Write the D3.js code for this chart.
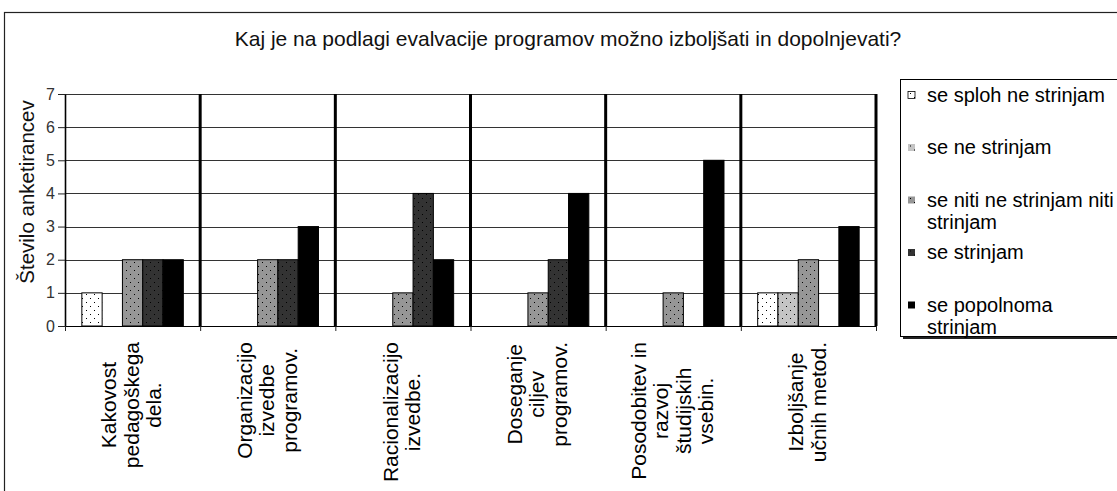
<!DOCTYPE html>
<html>
<head>
<meta charset="utf-8">
<script src="https://cdn.jsdelivr.net/npm/d3@7"></script>
<style>
  body { margin: 0; background: #fff; }
  svg { display: block; font-family: "Liberation Sans", Arial, sans-serif; }
</style>
</head>
<body>
<div id="chart"></div>
<script>
// data
var chartTitle = 'Kaj je na podlagi evalvacije programov možno izboljšati in dopolnjevati?';
var yTitle = 'Število anketirancev';
var categories = [
  ['Kakovost', 'pedagoškega', 'dela.'],
  ['Organizacijo', 'izvedbe', 'programov.'],
  ['Racionalizacijo', 'izvedbe.'],
  ['Doseganje', 'ciljev', 'programov.'],
  ['Posodobitev in', 'razvoj', 'študijskih', 'vsebin.'],
  ['Izboljšanje', 'učnih metod.']
];
var seriesNames = [
  ['se sploh ne strinjam'],
  ['se ne strinjam'],
  ['se niti ne strinjam niti', 'strinjam'],
  ['se strinjam'],
  ['se popolnoma', 'strinjam']
];
var sploh = [1, 0, 0, 0, 0, 1];
var neStrinjam = [0, 0, 0, 0, 0, 1];
var nitiNiti = [2, 2, 1, 1, 1, 2];
var strinjam = [2, 2, 4, 2, 0, 0];
var popolnoma = [2, 3, 2, 4, 5, 3];
var yTicks = [0, 1, 2, 3, 4, 5, 6, 7];

var seriesValues = [sploh, neStrinjam, nitiNiti, strinjam, popolnoma];
var seriesColors = ['#ffffff', '#c4c4c4', '#969696', '#333333', '#000000'];

var width = 1117, height = 491;
var plot = {left: 65, right: 876, top: 94, bottom: 326};

var svg = d3.select('#chart').append('svg')
            .attr('width', width)
            .attr('height', height);

// dotted fills
var defs = svg.append('defs');
seriesColors.forEach(function(c, i) {
  var p = defs.append('pattern')
              .attr('id', 'pat' + i)
              .attr('patternUnits', 'userSpaceOnUse')
              .attr('width', 8).attr('height', 8);
  p.append('rect').attr('width', 8).attr('height', 8).attr('fill', c);
  if (i < 4) {
    p.append('rect').attr('x', 2).attr('y', 2).attr('width', 1).attr('height', 1).attr('fill', '#000');
    p.append('rect').attr('x', 6).attr('y', 6).attr('width', 1).attr('height', 1).attr('fill', '#000');
  }
});

// outer chart border
svg.append('rect')
   .attr('x', 4.5).attr('y', 12.5)
   .attr('width', 1200).attr('height', 600)
   .attr('fill', 'none').attr('stroke', '#222').attr('stroke-width', 1.2);

svg.append('text')
   .attr('x', 568).attr('y', 46)
   .attr('text-anchor', 'middle')
   .style('font-size', '21px')
   .attr('fill', '#111')
   .text(chartTitle);

var x0 = d3.scaleBand()
           .domain(d3.range(categories.length))
           .range([plot.left, plot.right]);
var x1 = d3.scaleBand()
           .domain(d3.range(seriesValues.length))
           .range([0, x0.bandwidth()])
           .paddingOuter(0.83);
var xEdge = d3.scaleLinear()
              .domain([0, categories.length])
              .range([plot.left, plot.right]);
var y = d3.scaleLinear()
          .domain([0, 7])
          .range([plot.bottom, plot.top]);

// gridlines
svg.append('g').selectAll('line')
   .data(yTicks.filter(function(t) { return t > 0; }))
   .enter().append('line')
   .attr('x1', plot.left).attr('x2', plot.right)
   .attr('y1', function(d) { return Math.round(y(d)) + 0.5; })
   .attr('y2', function(d) { return Math.round(y(d)) + 0.5; })
   .attr('stroke', '#333').attr('stroke-width', 1);

// bars
var seriesG = svg.append('g').selectAll('g')
   .data(seriesValues)
   .enter().append('g')
   .attr('fill', function(d, i) { return 'url(#pat' + i + ')'; });

seriesG.selectAll('rect')
   .data(function(d, i) {
     return d.map(function(v, c) { return {s: i, c: c, v: v}; })
             .filter(function(e) { return e.v > 0; });
   })
   .enter().append('rect')
   .attr('x', function(d) { return x0(d.c) + x1(d.s); })
   .attr('width', x1.bandwidth())
   .attr('y', function(d) { return y(d.v); })
   .attr('height', function(d) { return y(0) - y(d.v); })
   .attr('stroke', '#000').attr('stroke-width', 1);

// thick group separators
svg.append('g').selectAll('line')
   .data(d3.range(1, categories.length + 1))
   .enter().append('line')
   .attr('x1', function(d) { return xEdge(d); })
   .attr('x2', function(d) { return xEdge(d); })
   .attr('y1', plot.top).attr('y2', plot.bottom)
   .attr('stroke', '#000').attr('stroke-width', 3);

// axes
var yAxis = d3.axisLeft(y).tickValues(yTicks).tickFormat(d3.format('d'))
              .tickSize(7).tickSizeOuter(0).tickPadding(3);
var yG = svg.append('g')
   .attr('transform', 'translate(' + plot.left + ',0)')
   .call(yAxis);
yG.select('.domain').attr('stroke', '#000').attr('stroke-width', 1.6);
yG.selectAll('.tick line').attr('stroke', '#222');
yG.selectAll('.tick text')
  .style('font-size', '16px')
  .style('font-family', '"Liberation Sans", Arial, sans-serif')
  .attr('fill', '#333');

var xAxis = d3.axisBottom(xEdge).tickValues(d3.range(categories.length + 1))
              .tickFormat('').tickSize(5).tickSizeOuter(0);
var xG = svg.append('g')
   .attr('transform', 'translate(0,' + plot.bottom + ')')
   .call(xAxis);
xG.select('.domain').attr('stroke', '#000');
xG.selectAll('.tick line').attr('stroke', '#222');

// category labels, rotated, top of the longest line near the axis
var labelSize = 21, labelPitch = 22.5, labelTop = 342;
var labelG = svg.append('g').selectAll('g')
   .data(categories)
   .enter().append('g')
   .attr('transform', function(d, i) {
     return 'translate(' + (x0(i) + x0.bandwidth() / 2) + ',' + labelTop + ') rotate(-90)';
   });

labelG.each(function(lines) {
  var g = d3.select(this);
  var texts = g.selectAll('text')
     .data(lines)
     .enter().append('text')
     .attr('text-anchor', 'middle')
     .style('font-size', labelSize + 'px')
     .attr('fill', '#000')
     .attr('y', function(d, i) { return (i - (lines.length - 1) / 2) * labelPitch + labelSize * 0.3; })
     .text(function(d) { return d; });
  var maxLen = d3.max(texts.nodes(), function(n) { return n.getComputedTextLength(); });
  texts.attr('x', -maxLen / 2);
});

// y axis title
svg.append('text')
   .attr('transform', 'translate(27,192) rotate(-90)')
   .attr('text-anchor', 'middle')
   .attr('dy', '0.35em')
   .style('font-size', '20.5px')
   .attr('fill', '#111')
   .text(yTitle);

// legend
var legend = svg.append('g');
legend.append('rect')
   .attr('x', 903).attr('y', 82)
   .attr('width', 260).attr('height', 257)
   .attr('fill', '#222');
legend.append('rect')
   .attr('x', 900.5).attr('y', 79.5)
   .attr('width', 260).attr('height', 257)
   .attr('fill', '#fff').attr('stroke', '#000').attr('stroke-width', 1);

var legendItem = legend.selectAll('g.item')
   .data(seriesNames)
   .enter().append('g')
   .attr('class', 'item')
   .attr('transform', function(d, i) { return 'translate(0,' + (95 + i * 52.5) + ')'; });

legendItem.append('rect')
   .attr('x', 908).attr('y', -3.5)
   .attr('width', 7).attr('height', 7)
   .attr('fill', function(d, i) { return 'url(#pat' + i + ')'; })
   .attr('stroke', function(d, i) { return i === 0 ? '#000' : 'none'; })
   .attr('stroke-width', 0.8);

legendItem.each(function(lines) {
  d3.select(this).selectAll('text')
    .data(lines)
    .enter().append('text')
    .attr('x', 927)
    .attr('y', function(d, i) { return i * 22 + 6.5; })
    .style('font-size', '20px')
    .attr('fill', '#000')
    .text(function(d) { return d; });
});
</script>
</body>
</html>
